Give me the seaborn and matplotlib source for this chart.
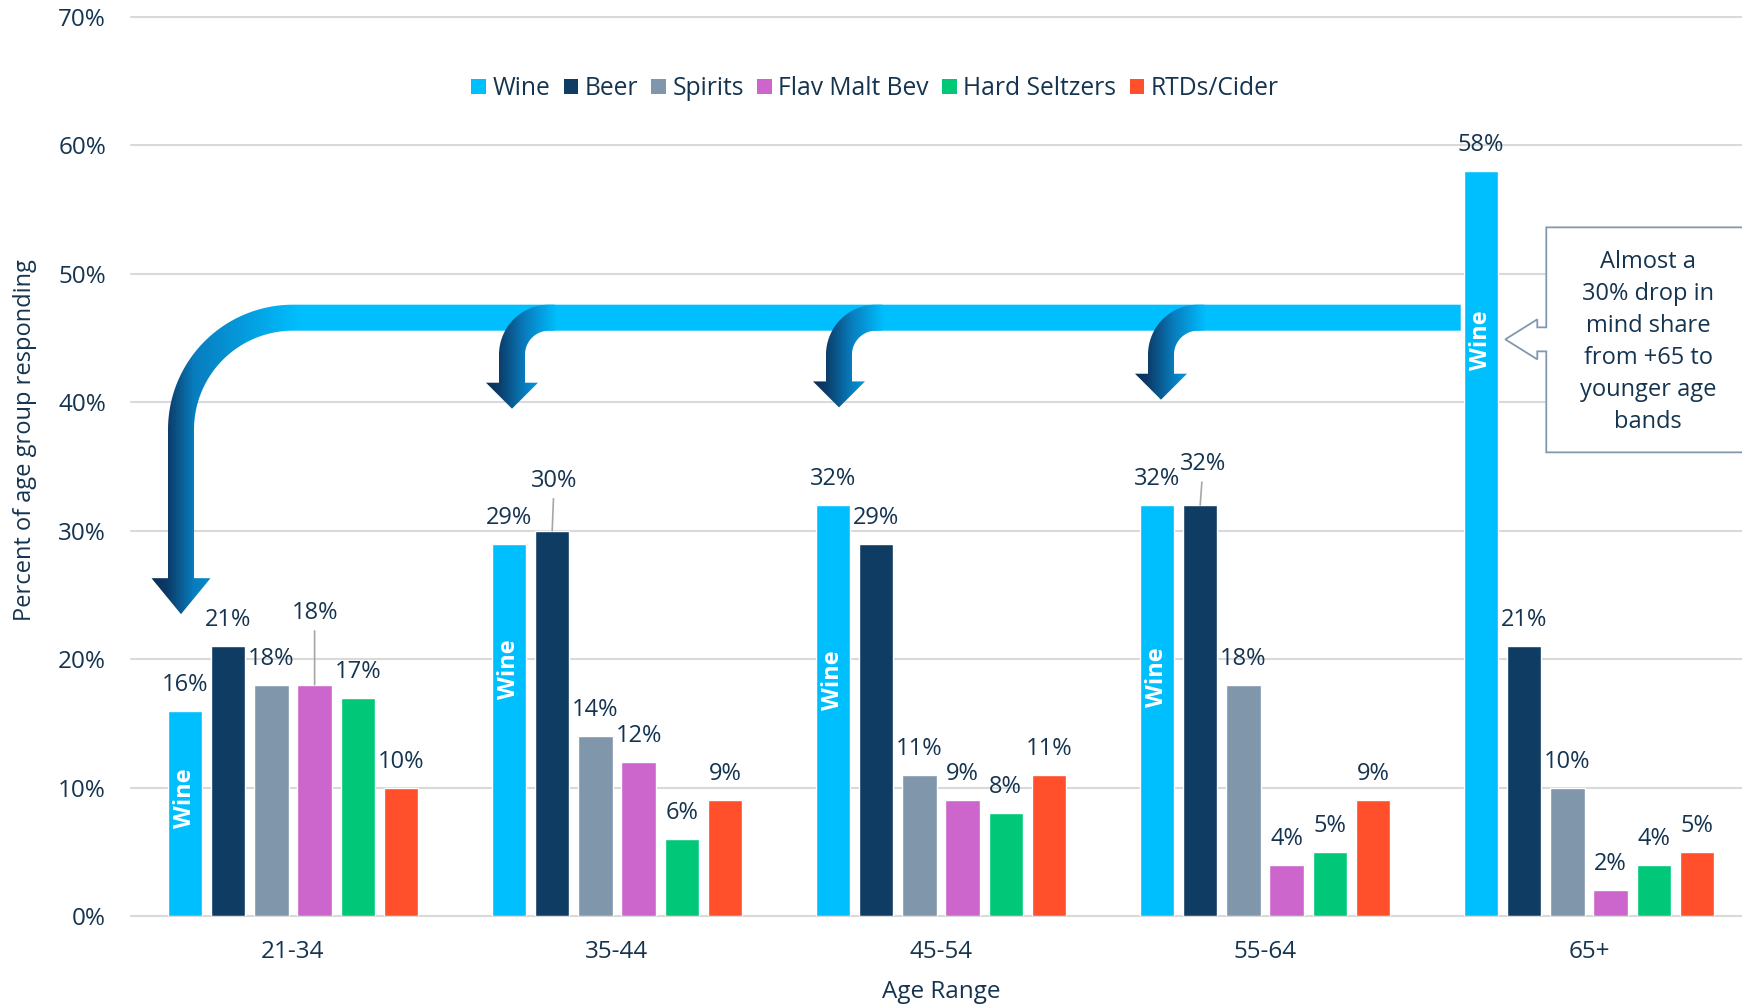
import numpy as np
import pandas as pd
import matplotlib
matplotlib.use("Agg")
import matplotlib.pyplot as plt
from matplotlib.path import Path
from matplotlib.patches import Patch, Polygon
import seaborn as sns

# ---- data -------------------------------------------------------------
age_ranges = ["21-34", "35-44", "45-54", "55-64", "65+"]
drinks = ["Wine", "Beer", "Spirits", "Flav Malt Bev", "Hard Seltzers", "RTDs/Cider"]
wine = [16, 29, 32, 32, 58]
beer = [21, 30, 29, 32, 21]
spirits = [18, 14, 11, 18, 10]
flav_malt_bev = [18, 12, 9, 4, 2]
hard_seltzers = [17, 6, 8, 5, 4]
rtds_cider = [10, 9, 11, 9, 5]
y_ticks = [0, 10, 20, 30, 40, 50, 60, 70]

callout_lines = ["Almost a", "30% drop in", "mind share", "from +65 to",
                 "younger age", "bands"]

# ---- styling ----------------------------------------------------------
palette = ["#00BFFF", "#0F3C62", "#7F96AB", "#CC66CC", "#00C878", "#FF4F2B"]
TEXT = "#153450"
GRID = "#D9D9D9"

sns.set_theme(style="white")
plt.rcParams["font.family"] = ["Open Sans", "DejaVu Sans"]

values = {
    "Wine": wine,
    "Beer": beer,
    "Spirits": spirits,
    "Flav Malt Bev": flav_malt_bev,
    "Hard Seltzers": hard_seltzers,
    "RTDs/Cider": rtds_cider,
}
df = pd.DataFrame(
    [(a, d, v) for d, vals in values.items() for a, v in zip(age_ranges, vals)],
    columns=["age", "drink", "pct"],
)

W, H = 1742, 1007
fig = plt.figure(figsize=(W / 100, H / 100), dpi=100)
ax = fig.add_axes([131 / W, 91 / H, 1620 / W, 899 / H])

sns.barplot(data=df, x="age", y="pct", hue="drink", order=age_ranges,
            hue_order=drinks, palette=palette, saturation=1, width=0.8,
            gap=0.2, errorbar=None, legend=False, ax=ax, zorder=2)

ax.set_xlim(-0.5, 4.5)
ax.set_ylim(0, 70)
ax.set_yticks(y_ticks)
ax.set_yticklabels([f"{t}%" for t in y_ticks])
ax.yaxis.grid(True, color=GRID, lw=1.5)
ax.xaxis.grid(False)
ax.set_axisbelow(True)
for gl in ax.get_ygridlines():
    gl.set_clip_on(False)
sns.despine(ax=ax, left=True, bottom=True)
ax.tick_params(axis="both", length=0, labelsize=17.5, labelcolor=TEXT)
ax.tick_params(axis="y", pad=18)
ax.tick_params(axis="x", pad=17)

ax.set_xlabel("Age Range", fontsize=17.5, color=TEXT)
ax.xaxis.set_label_coords(0.5, (916 - 998) / 899)
ax.xaxis.label.set_va("baseline")
ax.set_ylabel("Percent of age group responding", fontsize=17, color=TEXT)
ax.yaxis.set_label_coords((31 - 131) / 1620, (916 - 440) / 899)
ax.yaxis.label.set_va("baseline")

PX = 0.72  # points per pixel at 100 dpi

# ---- value labels -----------------------------------------------------
raised = {("21-34", "Flav Malt Bev"): (0, 66),
          ("35-44", "Beer"): (2, 44),
          ("55-64", "Beer"): (3, 35)}
for cont, drink in zip(ax.containers, drinks):
    for bar, age in zip(cont, age_ranges):
        xc = bar.get_x() + bar.get_width() / 2
        v = bar.get_height()
        if (age, drink) in raised:
            dx, dy = raised[(age, drink)]
            ax.annotate(f"{v:.0f}%", xy=(xc, v), xytext=(dx * PX, dy * PX),
                        textcoords="offset points", ha="center", va="baseline",
                        fontsize=17, color=TEXT, zorder=6,
                        arrowprops=dict(arrowstyle="-", color="#A6A6A6",
                                        lw=1.2, shrinkB=0))
        else:
            ax.annotate(f"{v:.0f}%", xy=(xc, v), xytext=(0, 20 * PX),
                        textcoords="offset points", ha="center", va="baseline",
                        fontsize=17, color=TEXT, zorder=6)

# "Wine" tags written inside the wine bars
wine_tag_y = [9.2, 19.2, 18.4, 18.6, 44.8]
wine_bars = list(ax.containers[0])
for bar, ty in zip(wine_bars, wine_tag_y):
    ax.text(bar.get_x() + bar.get_width() / 2, ty, "Wine", rotation=90,
            ha="center", va="center", color="white", fontweight="bold",
            fontsize=17, zorder=6)

# ---- bent gradient arrows ---------------------------------------------
to_px = ax.transData.transform
to_data = ax.transData.inverted().transform


def arrow_outline(c, tail, top, tip, R, shaft, head_w, head_l):
    cx, cy = c - shaft / 2 + R, top - R
    phi = np.linspace(np.pi / 2, np.pi, 48)
    outer = np.column_stack([cx + R * np.cos(phi), cy + R * np.sin(phi)])
    r = R - shaft
    inner = np.column_stack([cx + r * np.cos(phi[::-1]), cy + r * np.sin(phi[::-1])])
    pts = ([(tail, top)] + outer.tolist() +
           [(c - shaft / 2, tip + head_l), (c - head_w / 2, tip + head_l), (c, tip),
            (c + head_w / 2, tip + head_l), (c + shaft / 2, tip + head_l)] +
           inner.tolist() + [(tail, top - shaft)])
    return np.array(pts)


band_value = 47.6
tip_values = [23.5, 39.5, 39.6, 40.2]
shaft_shift = [-4, 3, 6, 4]
shapes = [dict(R=125, head_w=59, head_l=36)] + [dict(R=50, head_w=52, head_l=26)] * 3
SHAFT = 26
grad_cols = np.array([[10, 45, 85], [12, 60, 105], [8, 125, 190], [0, 191, 255]]) / 255

centers = [to_px((b.get_x() + b.get_width() / 2, 0))[0] + s
           for b, s in zip(wine_bars, shaft_shift)]
last_left = to_px((wine_bars[-1].get_x(), 0))[0] - 3
top_px = to_px((0, band_value))[1]

for k in range(4):
    c = centers[k]
    s = shapes[k]
    if k < 3:
        tail = centers[k + 1] - SHAFT / 2 + shapes[k + 1]["R"] + 6
    else:
        tail = last_left
    tip_px = to_px((0, tip_values[k]))[1]
    pts = arrow_outline(c, tail, top_px, tip_px, s["R"], SHAFT, s["head_w"], s["head_l"])
    x0, x1 = c - s["head_w"] / 2 - 1, tail
    xs = np.arange(np.floor(x0), np.ceil(x1)) + 0.5
    stops = [c - s["head_w"] / 2, c - SHAFT / 2, c + SHAFT / 2, c - SHAFT / 2 + s["R"] + 8]
    img = np.stack([np.interp(xs, stops, grad_cols[:, i]) for i in range(3)], axis=-1)[None]
    (dx0, dy0), (dx1, dy1) = to_data([(xs[0] - 0.5, tip_px - 1), (xs[-1] + 0.5, top_px + 1)])
    im = ax.imshow(img, extent=[dx0, dx1, dy0, dy1], aspect="auto",
                   interpolation="bilinear", zorder=4 + 0.1 * k)
    im.set_clip_path(Path(to_data(pts)), ax.transData)

ax.set_xlim(-0.5, 4.5)
ax.set_ylim(0, 70)

# ---- callout box --------------------------------------------------------
tip_x = to_px((wine_bars[-1].get_x() + wine_bars[-1].get_width(), 0))[0] + 7
tip_y = to_px((0, 44.9))[1]
box = np.array([
    (tip_x, tip_y), (tip_x + 32, tip_y + 20), (tip_x + 32, tip_y + 12),
    (tip_x + 41, tip_y + 12), (tip_x + 41, tip_y + 112), (tip_x + 400, tip_y + 112),
    (tip_x + 400, tip_y - 113), (tip_x + 41, tip_y - 113), (tip_x + 41, tip_y - 12),
    (tip_x + 32, tip_y - 12), (tip_x + 32, tip_y - 20),
])
fig.add_artist(Polygon(fig.transFigure.inverted().transform(box), closed=True,
                       facecolor="white", edgecolor="#8497B0", lw=1.3,
                       transform=fig.transFigure, zorder=7))
for i, line in enumerate(callout_lines):
    fx, fy = fig.transFigure.inverted().transform((tip_x + 143, tip_y + 71 - 32 * i))
    fig.text(fx, fy, line, ha="center", va="baseline", fontsize=17,
             color=TEXT, zorder=8)

# ---- legend -----------------------------------------------------------
handles = [Patch(facecolor=c, edgecolor="none", label=d) for c, d in zip(palette, drinks)]
fig.legend(handles=handles, loc="center", bbox_to_anchor=(875 / W, 1 - 88.5 / H),
           ncol=6, frameon=False, fontsize=17.7, handlelength=0.6, handleheight=0.6,
           handletextpad=0.25, columnspacing=0.55, labelcolor=TEXT, borderpad=0)

fig.savefig("out.png", dpi=100)
